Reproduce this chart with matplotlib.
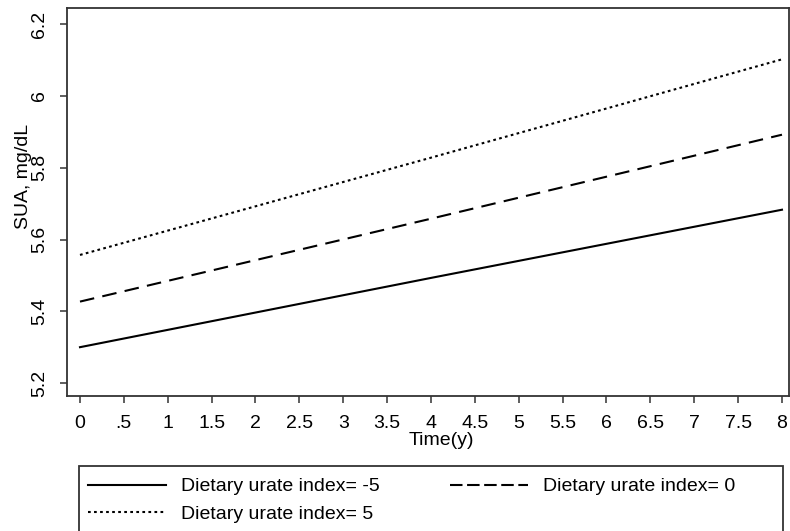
import matplotlib.pyplot as plt
from matplotlib.lines import Line2D
from matplotlib.patches import Rectangle

plt.rcParams['font.family'] = ['Liberation Sans', 'DejaVu Sans']

# Values (predicted SUA by time)
time_y = [0, 4, 8]
sua_neg5 = [5.300, 5.493, 5.683]
sua_0 = [5.427, 5.658, 5.892]
sua_pos5 = [5.557, 5.828, 6.102]

x_ticks = [0, 0.5, 1, 1.5, 2, 2.5, 3, 3.5, 4, 4.5, 5, 5.5, 6, 6.5, 7, 7.5, 8]
x_tick_labels = ['0', '.5', '1', '1.5', '2', '2.5', '3', '3.5', '4', '4.5',
                 '5', '5.5', '6', '6.5', '7', '7.5', '8']
y_ticks = [5.2, 5.4, 5.6, 5.8, 6.0, 6.2]
y_tick_labels = ['5.2', '5.4', '5.6', '5.8', '6', '6.2']
labels = ['Dietary urate index= -5', 'Dietary urate index= 0',
          'Dietary urate index= 5']

fig = plt.figure(figsize=(7.9, 5.31), dpi=100)
ax = fig.add_axes([67 / 790, 1 - 396 / 531, 722 / 790, 388 / 531])

lw = 1.5
dash = (0, (7, 4))
dot = (0, (1.3, 1.6))
ax.plot(time_y, sua_neg5, color='black', lw=lw, linestyle='-')
ax.plot(time_y, sua_0, color='black', lw=lw, linestyle=dash)
ax.plot(time_y, sua_pos5, color='black', lw=lw, linestyle=dot)

ax.set_xlim(-0.148, 8.08)
ax.set_ylim(5.164, 6.245)
ax.set_xticks(x_ticks)
ax.set_xticklabels(x_tick_labels)
ax.set_yticks(y_ticks)
ax.set_yticklabels(y_tick_labels, rotation=90, va='center')

ax.tick_params(axis='both', direction='out', length=5, width=1.1,
               color='#333333', labelsize=14, pad=8.5)
for sp in ax.spines.values():
    sp.set_linewidth(1.3)
    sp.set_color('#333333')

ax.set_xlabel('Time(y)', fontsize=14)
ax.xaxis.set_label_coords(0.518, -0.094)
ax.set_ylabel('SUA, mg/dL', fontsize=14)
ax.yaxis.set_label_coords(-0.048, 0.565)

# legend box below the plot, running off the bottom edge
fig.patches.append(Rectangle((79 / 790, -0.05), 704 / 790, 1 - 466 / 531 + 0.05,
                             transform=fig.transFigure, fill=False,
                             edgecolor='#333333', lw=1.3))
# legend samples use shorter dashes than the plotted lines
h_neg5 = Line2D([], [], color='black', lw=lw, linestyle='-')
h_0 = Line2D([], [], color='black', lw=lw, linestyle=(0, (6, 2.2)))
h_pos5 = Line2D([], [], color='black', lw=lw, linestyle=dot)
# column-wise fill: order gives row 1 = -5, 0 and row 2 = 5
fig.legend([h_neg5, h_pos5, h_0], [labels[0], labels[2], labels[1]],
           loc='upper left', bbox_to_anchor=(80 / 790, 1 - 470 / 531),
           ncol=2, frameon=False, fontsize=14, handlelength=4.0,
           handletextpad=0.8, columnspacing=3.6, labelspacing=0.5,
           borderaxespad=0)

fig.savefig('out.png', dpi=100)
